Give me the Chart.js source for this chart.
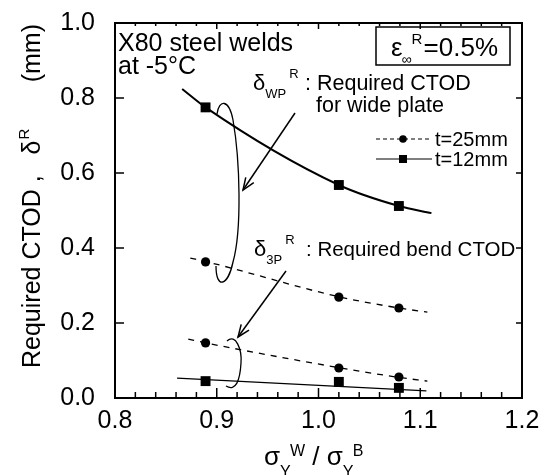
<!DOCTYPE html>
<html><head><meta charset="utf-8">
<script src="https://cdn.jsdelivr.net/npm/chart.js@4.4.0/dist/chart.umd.min.js"></script>
<style>html,body{margin:0;padding:0;background:#fff}#wrap{width:546px;height:475px}</style>
</head><body><div id="wrap"><canvas id="c" width="546" height="475"></canvas></div>
<script>
// ---- data ----
const xTicks = [0.8, 0.9, 1.0, 1.1, 1.2];
const yTicks = [0.0, 0.2, 0.4, 0.6, 0.8, 1.0];
const ratio = [0.889, 1.020, 1.079];          // sigma_Y^W / sigma_Y^B
const wp12 = [0.775, 0.568, 0.512];           // wide plate, t=12mm
const wp25 = [0.363, 0.269, 0.240];           // wide plate, t=25mm
const b25  = [0.147, 0.080, 0.056];           // bend, t=25mm
const b12  = [0.045, 0.043, 0.027];           // bend, t=12mm
// fitted curves
const wp12FitX = [0.866, 0.889, 1.020, 1.079, 1.111];
const wp12FitY = [0.824, 0.775, 0.568, 0.512, 0.493];
const wp25FitX = [0.874, 0.889, 1.020, 1.079, 1.107];
const wp25FitY = [0.373, 0.364, 0.270, 0.240, 0.229];
const b25FitX  = [0.872, 0.889, 1.020, 1.079, 1.107];
const b25FitY  = [0.157, 0.147, 0.081, 0.055, 0.045];
const b12FitX  = [0.861, 1.106];
const b12FitY  = [0.053, 0.019];

const FONT = '"Liberation Sans", Arial, Helvetica, sans-serif';
const pts = (xs, ys) => xs.map((v, i) => ({x: v, y: ys[i]}));

function rich(ctx, x, y, parts) {
  let cx = x;
  for (const [t, s, dy] of parts) {
    ctx.font = s + 'px ' + FONT;
    ctx.fillText(t, cx, y + (dy || 0));
    cx += ctx.measureText(t).width;
  }
  return cx;
}
function arrow(ctx, x1, y1, x2, y2) {
  ctx.beginPath(); ctx.moveTo(x1, y1); ctx.lineTo(x2, y2); ctx.stroke();
  const a = Math.atan2(y2 - y1, x2 - x1), L = 13, w = 0.38;
  ctx.beginPath();
  ctx.moveTo(x2 - L * Math.cos(a - w), y2 - L * Math.sin(a - w));
  ctx.lineTo(x2, y2);
  ctx.lineTo(x2 - L * Math.cos(a + w), y2 - L * Math.sin(a + w));
  ctx.stroke();
}

const deco = {
  id: 'deco',
  afterDraw(chart) {
    const {ctx, chartArea: a, scales: {x, y}} = chart;
    ctx.save();
    ctx.strokeStyle = '#000'; ctx.fillStyle = '#000';
    ctx.lineWidth = 1.5;
    const ln = (x1, y1, x2, y2) => { ctx.beginPath(); ctx.moveTo(x1, y1); ctx.lineTo(x2, y2); ctx.stroke(); };
    for (let i = 0; i < xTicks.length - 1; i++) {
      for (let k = 0; k < 5; k++) {
        const v = xTicks[i] + (xTicks[i + 1] - xTicks[i]) * k / 5;
        const px = x.getPixelForValue(v);
        const major = k === 0;
        ln(px, a.bottom, px, a.bottom - (major ? 10 : 6));
        ln(px, a.top, px, a.top + (major ? 6 : 3));
      }
    }
    yTicks.forEach(v => {
      const py = y.getPixelForValue(v);
      ln(a.left, py, a.left + 9, py);
      ln(a.right, py, a.right - 6, py);
    });
    ctx.lineWidth = 2;
    ctx.strokeRect(a.left, a.top, a.right - a.left, a.bottom - a.top);

    ctx.textBaseline = 'alphabetic'; ctx.textAlign = 'left';
    ctx.font = '25px ' + FONT;
    ctx.fillText('X80 steel welds', 118, 51);
    ctx.fillText('at -5\u00B0C', 118, 74);

    // epsilon box
    ctx.lineWidth = 1.5;
    ctx.strokeRect(376, 27, 134, 38);
    let ex = rich(ctx, 391, 56, [['\u03B5', 26, 0]]);
    rich(ctx, ex - 1, 64, [['\u221E', 14, 0]]);
    rich(ctx, ex + 9, 44, [['R', 15, 0]]);
    rich(ctx, ex + 21, 56, [['=0.5%', 26, 0]]);

    // delta WP label
    let dx = rich(ctx, 253, 90, [['\u03B4', 22, 0]]);
    let sx = rich(ctx, dx, 98, [['WP', 13, 0]]);
    rich(ctx, sx + 3, 78, [['R', 13, 0]]);
    rich(ctx, 305, 90, [[': Required CTOD', 21.5, 0]]);
    rich(ctx, 316, 112, [['for wide plate', 21.5, 0]]);

    // delta 3P label
    dx = rich(ctx, 254, 256, [['\u03B4', 22, 0]]);
    sx = rich(ctx, dx, 264, [['3P', 13, 0]]);
    rich(ctx, sx + 3, 244, [['R', 13, 0]]);
    rich(ctx, 306, 256, [[': Required bend CTOD', 20.5, 0]]);

    // legend
    ctx.lineWidth = 1.2;
    ctx.setLineDash([4, 3]);
    ln(376, 139, 432, 139);
    ctx.setLineDash([]);
    ctx.beginPath(); ctx.arc(403, 139, 3.8, 0, Math.PI * 2); ctx.fill();
    ln(376, 159, 432, 159);
    ctx.fillRect(399, 155, 8, 8);
    ctx.font = '20px ' + FONT;
    ctx.fillText('t=25mm', 435, 146);
    ctx.fillText('t=12mm', 435, 166);

    // loops & arrows
    ctx.lineWidth = 1.3;
    ctx.beginPath();
    ctx.moveTo(217, 114);
    ctx.bezierCurveTo(219, 99, 229, 99, 233, 120);
    ctx.bezierCurveTo(240, 160, 242, 230, 233, 262);
    ctx.bezierCurveTo(228, 286, 216, 290, 216, 266);
    ctx.stroke();
    ctx.beginPath();
    ctx.moveTo(227, 341);
    ctx.bezierCurveTo(236, 333, 242, 350, 241, 363);
    ctx.bezierCurveTo(240, 380, 236, 392, 226, 386);
    ctx.stroke();
    ctx.lineWidth = 1.5;
    arrow(ctx, 295, 113, 243, 190);
    arrow(ctx, 286, 271, 238, 337);

    // y axis title (rotated)
    ctx.save();
    ctx.translate(40, 368);
    ctx.rotate(-Math.PI / 2);
    let tx = rich(ctx, 0, 0, [['Required CTOD ,   \u03B4', 25, 0]]);
    rich(ctx, tx + 1, -11, [['R', 15, 0]]);
    ctx.font = '25px ' + FONT;
    const mw = ctx.measureText('(mm)').width;
    rich(ctx, 368 - 24 - mw, 0, [['(mm)', 25, 0]]);
    ctx.restore();

    // x axis title
    let cx = 264;
    cx = rich(ctx, cx, 465, [['\u03C3', 26, 0]]);
    rich(ctx, cx, 477, [['Y', 16, 0]]);
    cx = rich(ctx, cx + 10, 456, [['W', 16, 0]]);
    cx = rich(ctx, cx, 465, [[' / \u03C3', 26, 0]]);
    rich(ctx, cx, 477, [['Y', 16, 0]]);
    rich(ctx, cx + 10, 456, [['B', 16, 0]]);
    ctx.restore();
  }
};

const chart = new Chart(document.getElementById('c'), {
  type: 'scatter',
  data: {
    datasets: [
      {data: pts(wp12FitX, wp12FitY), showLine: true, borderColor: '#000', borderWidth: 2, pointRadius: 0, cubicInterpolationMode: 'monotone'},
      {data: pts(wp25FitX, wp25FitY), showLine: true, borderColor: '#000', borderWidth: 1.3, borderDash: [6, 6], pointRadius: 0, cubicInterpolationMode: 'monotone'},
      {data: pts(b25FitX, b25FitY), showLine: true, borderColor: '#000', borderWidth: 1.3, borderDash: [6, 6], pointRadius: 0, cubicInterpolationMode: 'monotone'},
      {data: pts(b12FitX, b12FitY), showLine: true, borderColor: '#000', borderWidth: 1.5, pointRadius: 0},
      {data: pts(ratio, wp12), pointStyle: 'rect', pointRadius: 7, backgroundColor: '#000', borderColor: '#000', borderWidth: 0},
      {data: pts(ratio, b12), pointStyle: 'rect', pointRadius: 7, backgroundColor: '#000', borderColor: '#000', borderWidth: 0},
      {data: pts(ratio, wp25), pointStyle: 'circle', pointRadius: 4.6, backgroundColor: '#000', borderColor: '#000', borderWidth: 0},
      {data: pts(ratio, b25), pointStyle: 'circle', pointRadius: 4.6, backgroundColor: '#000', borderColor: '#000', borderWidth: 0}
    ]
  },
  options: {
    responsive: false, animation: false, devicePixelRatio: 1,
    layout: {padding: {top: 23, right: 24, left: 0, bottom: 0}},
    plugins: {legend: {display: false}, tooltip: {enabled: false}},
    scales: {
      x: {
        type: 'linear', min: xTicks[0], max: xTicks[xTicks.length - 1],
        afterBuildTicks: s => { s.ticks = xTicks.map(v => ({value: v})); },
        afterFit: s => { s.height = 77; s.paddingLeft = 0; s.paddingRight = 0; },
        grid: {display: false, drawTicks: false},
        border: {display: false},
        ticks: {color: '#000', font: {family: FONT, size: 25}, padding: 8, maxRotation: 0, callback: v => v.toFixed(1)}
      },
      y: {
        type: 'linear', min: yTicks[0], max: yTicks[yTicks.length - 1],
        afterBuildTicks: s => { s.ticks = yTicks.map(v => ({value: v})); },
        afterFit: s => { s.width = 115; s.paddingTop = 0; s.paddingBottom = 0; },
        grid: {display: false, drawTicks: false},
        border: {display: false},
        ticks: {color: '#000', font: {family: FONT, size: 25}, padding: 20, callback: v => v.toFixed(1)}
      }
    }
  },
  plugins: [deco]
});
</script>
</body></html>
